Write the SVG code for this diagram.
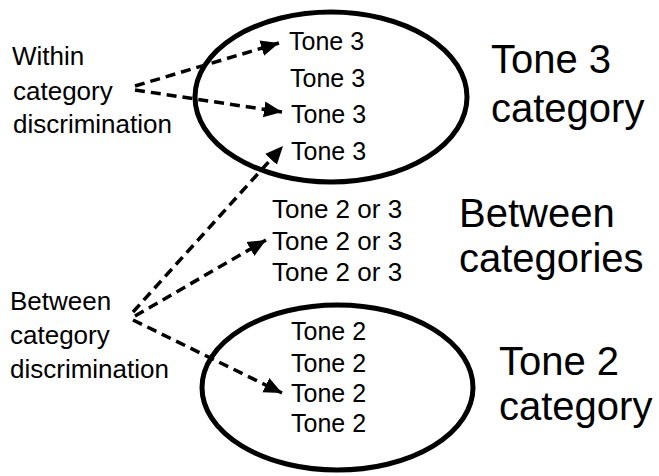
<svg xmlns="http://www.w3.org/2000/svg" width="659" height="476" viewBox="0 0 659 476">
<style>
text{font-family:"Liberation Sans",Arial,sans-serif;fill:#000}
.s{font-size:25px}
.m{font-size:26px}
.l{font-size:40px}
.ell{fill:none;stroke:#000;stroke-width:5}
.arr{fill:none;stroke:#000;stroke-width:3.5;stroke-dasharray:10 6;marker-end:url(#ah)}
</style>
<defs>
<marker id="ah" markerUnits="userSpaceOnUse" markerWidth="20" markerHeight="18" refX="18" refY="8" orient="auto" viewBox="0 0 20 16">
<path d="M0,0 L18,8 L0,16 Z" fill="#000"/>
</marker>
</defs>
<rect width="659" height="476" fill="#fff"/>
<g id="tone3-category">
<ellipse class="ell" cx="331" cy="97" rx="136" ry="85"/>
<text class="s" x="289" y="50">Tone 3</text>
<text class="s" x="290" y="87">Tone 3</text>
<text class="s" x="291" y="123">Tone 3</text>
<text class="s" x="291" y="160">Tone 3</text>
</g>
<g id="tone3-label">
<text class="l" x="491" y="73">Tone 3</text>
<text class="l" x="491" y="122">category</text>
</g>
<g id="between-tones">
<text class="m" x="272" y="218">Tone 2 or 3</text>
<text class="m" x="272" y="250">Tone 2 or 3</text>
<text class="m" x="272" y="281">Tone 2 or 3</text>
</g>
<g id="between-label">
<text class="l" x="459" y="227">Between</text>
<text class="l" x="459" y="272">categories</text>
</g>
<g id="tone2-category">
<ellipse class="ell" cx="337.5" cy="387.5" rx="135.5" ry="82.5"/>
<text class="s" x="291" y="340">Tone 2</text>
<text class="s" x="291" y="372">Tone 2</text>
<text class="s" x="291" y="402">Tone 2</text>
<text class="s" x="291" y="432">Tone 2</text>
</g>
<g id="tone2-label">
<text class="l" x="499" y="375">Tone 2</text>
<text class="l" x="499" y="420">category</text>
</g>
<g id="within-label">
<text class="m" x="12" y="65">Within</text>
<text class="m" x="13" y="100">category</text>
<text class="m" x="13" y="133">discrimination</text>
</g>
<g id="between-disc-label">
<text class="m" x="10" y="310">Between</text>
<text class="m" x="10" y="344">category</text>
<text class="m" x="10" y="378">discrimination</text>
</g>
<g id="connectors">
<path class="arr" d="M135,86 L279,43"/>
<path class="arr" d="M135,90 L282,112"/>
<path class="arr" d="M133,312 L283,146"/>
<path class="arr" d="M135,316 L266,240"/>
<path class="arr" d="M133,320 L282,393"/>
</g>
</svg>
